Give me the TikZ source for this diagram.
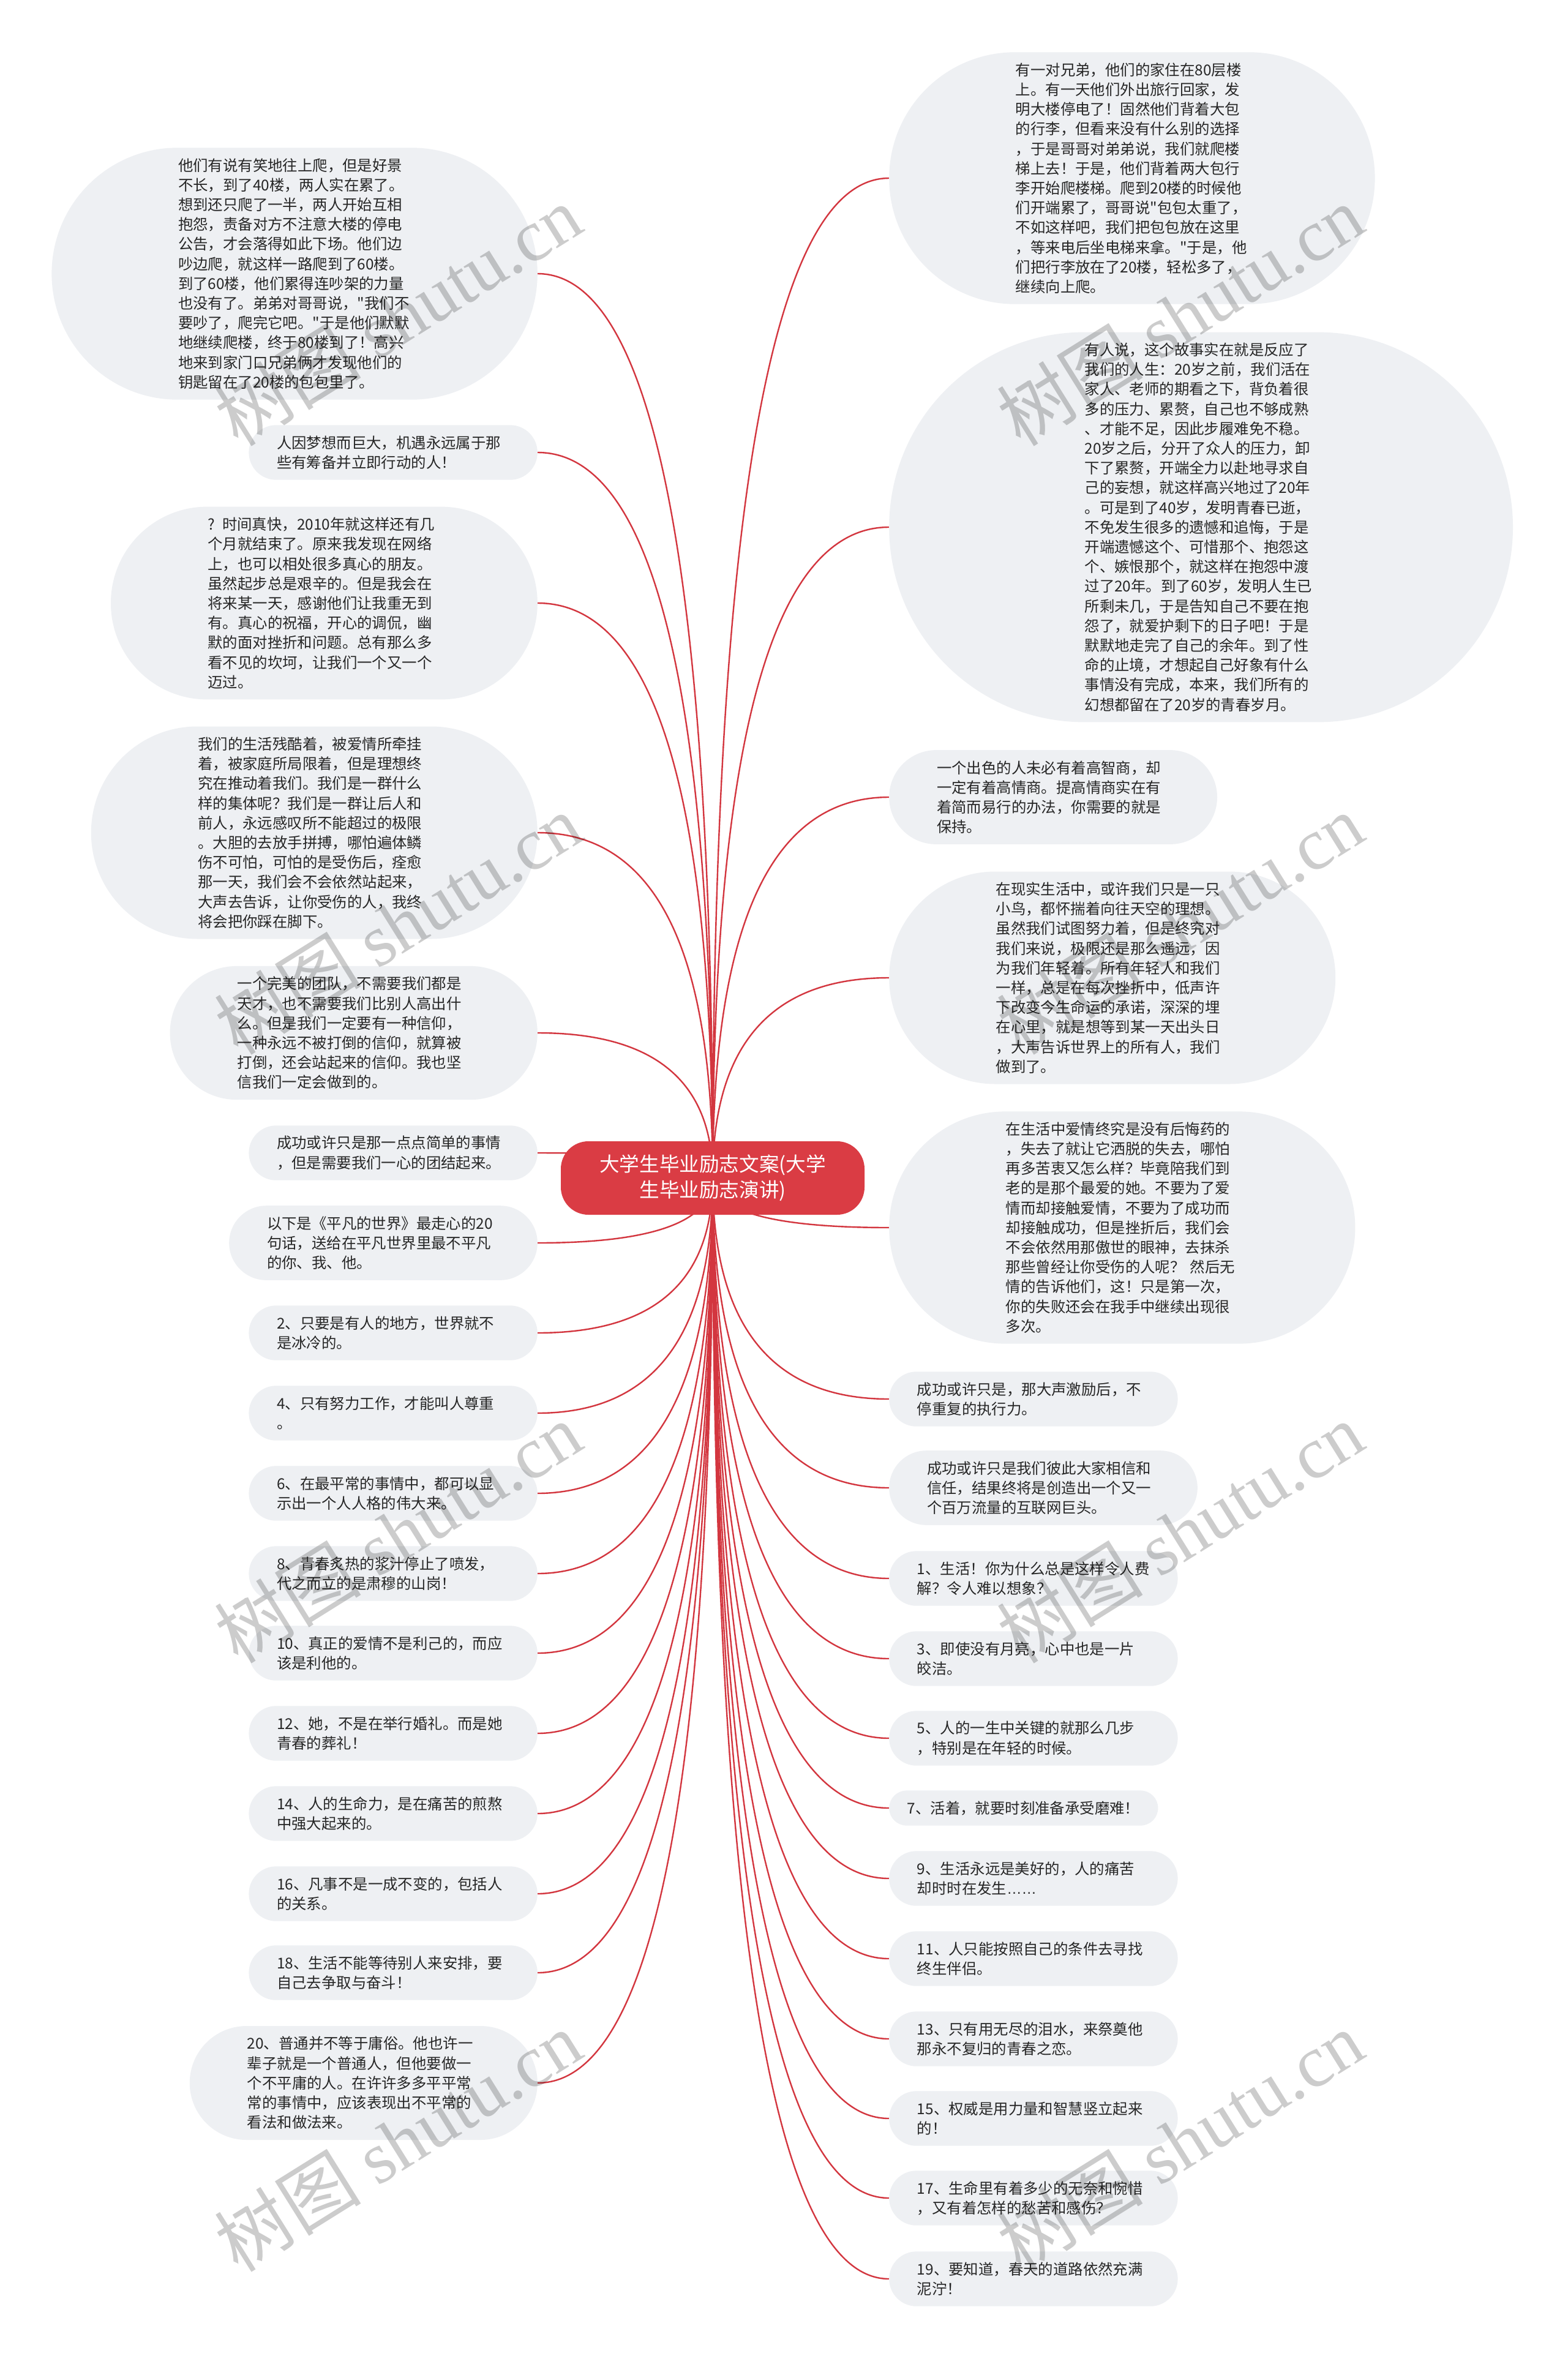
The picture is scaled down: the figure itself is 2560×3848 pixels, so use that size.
\documentclass[tikz,border=0pt]{standalone}
\usepackage{fontspec}
\setmainfont{Noto Sans CJK SC}
\setmonofont{Noto Sans CJK SC}
\newfontfamily\wmlat{Liberation Serif}
\newfontfamily\latf{Liberation Sans}
\usetikzlibrary{calc,backgrounds}
\definecolor{bubfill}{HTML}{EEF0F3}
\definecolor{rootred}{HTML}{DA3C44}
\definecolor{linkred}{HTML}{D3363F}
\definecolor{txt}{HTML}{262626}
\newcommand\sq{{\ttfamily "}}
\newcommand\mmlink[2]{\draw[link] let \p1=(root.center), \p2=(#1.#2) in (\p1) .. controls ($(\p1)!0.6667!(\x1,\y2)$) and ($(\p2)!0.6667!(\x1,\y2)$) .. (\p2);}
\begin{document}
\begin{tikzpicture}[x=1pt,y=-1pt,
  bub/.style={fill=bubfill,text=txt,inner sep=0pt,text width=380pt,align=left,
    font=\fontsize{24.4}{32.2}\selectfont,
    minimum height={32.2*#1+25},minimum width={32.2*#1+407},rounded corners={16.1*#1+12.5}},
  lnode/.style={bub=#1,anchor=east},
  rnode/.style={bub=#1,anchor=west},
  link/.style={draw=linkred,line width=2.4pt},
  rootbox/.style={fill=rootred,text=white,rounded corners=45pt,minimum width=496pt,minimum height=120pt,
    inner sep=0pt,align=center,font=\fontsize{32.6}{42}\selectfont},
  wm/.style={text=black,text opacity=0.2,font=\fontsize{120}{120}\selectfont,rotate=32,inner sep=0pt}]
\useasboundingbox (0,0) rectangle (2560,3848);
\begin{pgfonlayer}{background}
\fill[white] (0,0) rectangle (2560,3848);
\end{pgfonlayer}

\node[rootbox] (root) at (1164,1924) {大学生毕业励志文案(大学\\生毕业励志演讲)};

% left column
\node[lnode=12] (L1) at (878,447) {他们有说有笑地往上爬，但是好景\\不长，到了40楼，两人实在累了。\\想到还只爬了一半，两人开始互相\\抱怨，责备对方不注意大楼的停电\\公告，才会落得如此下场。他们边\\吵边爬，就这样一路爬到了60楼。\\到了60楼，他们累得连吵架的力量\\也没有了。弟弟对哥哥说，\sq 我们不\\要吵了，爬完它吧。\sq 于是他们默默\\地继续爬楼，终于80楼到了！高兴\\地来到家门口兄弟俩才发现他们的\\钥匙留在了20楼的包包里了。};
\node[lnode=2] (L2) at (878,739) {人因梦想而巨大，机遇永远属于那\\些有筹备并立即行动的人！};
\node[lnode=9] (L3) at (878,985) {? 时间真快，2010年就这样还有几\\个月就结束了。原来我发现在网络\\上，也可以相处很多真心的朋友。\\虽然起步总是艰辛的。但是我会在\\将来某一天，感谢他们让我重无到\\有。真心的祝福，开心的调侃，幽\\默的面对挫折和问题。总有那么多\\看不见的坎坷，让我们一个又一个\\迈过。};
\node[lnode=10] (L4) at (878,1360) {我们的生活残酷着，被爱情所牵挂\\着，被家庭所局限着，但是理想终\\究在推动着我们。我们是一群什么\\样的集体呢？我们是一群让后人和\\前人，永远感叹所不能超过的极限\\。大胆的去放手拼搏，哪怕遍体鳞\\伤不可怕，可怕的是受伤后，痊愈\\那一天，我们会不会依然站起来，\\大声去告诉，让你受伤的人，我终\\将会把你踩在脚下。};
\node[lnode=6] (L5) at (878,1687) {一个完美的团队，不需要我们都是\\天才，也不需要我们比别人高出什\\么。但是我们一定要有一种信仰，\\一种永远不被打倒的信仰，就算被\\打倒，还会站起来的信仰。我也坚\\信我们一定会做到的。};
\node[lnode=2] (L6) at (878,1883) {成功或许只是那一点点简单的事情\\，但是需要我们一心的团结起来。};
\node[lnode=3] (L7) at (878,2030) {以下是《平凡的世界》最走心的20\\句话，送给在平凡世界里最不平凡\\的你、我、他。};
\node[lnode=2] (L8) at (878,2177) {2、只要是有人的地方，世界就不\\是冰冷的。};
\node[lnode=2] (L9) at (878,2308) {4、只有努力工作，才能叫人尊重\\。};
\node[lnode=2] (L10) at (878,2439) {6、在最平常的事情中，都可以显\\示出一个人人格的伟大来。};
\node[lnode=2] (L11) at (878,2570) {8、青春炙热的浆汁停止了喷发，\\代之而立的是肃穆的山岗！};
\node[lnode=2] (L12) at (878,2700) {10、真正的爱情不是利己的，而应\\该是利他的。};
\node[lnode=2] (L13) at (878,2831) {12、她，不是在举行婚礼。而是她\\青春的葬礼！};
\node[lnode=2] (L14) at (878,2962) {14、人的生命力，是在痛苦的煎熬\\中强大起来的。};
\node[lnode=2] (L15) at (878,3093) {16、凡事不是一成不变的，包括人\\的关系。};
\node[lnode=2] (L16) at (878,3222) {18、生活不能等待别人来安排，要\\自己去争取与奋斗！};
\node[lnode=5] (L17) at (878,3402) {20、普通并不等于庸俗。他也许一\\辈子就是一个普通人，但他要做一\\个不平庸的人。在许许多多平平常\\常的事情中，应该表现出不平常的\\看法和做法来。};

% right column
\node[rnode=12] (R1) at (1452,291) {有一对兄弟，他们的家住在80层楼\\上。有一天他们外出旅行回家，发\\明大楼停电了！固然他们背着大包\\的行李，但看来没有什么别的选择\\，于是哥哥对弟弟说，我们就爬楼\\梯上去！于是，他们背着两大包行\\李开始爬楼梯。爬到20楼的时候他\\们开端累了，哥哥说\sq 包包太重了，\\不如这样吧，我们把包包放在这里\\，等来电后坐电梯来拿。\sq 于是，他\\们把行李放在了20楼，轻松多了，\\继续向上爬。};
\node[rnode=19] (R2) at (1452,861) {有人说，这个故事实在就是反应了\\我们的人生：20岁之前，我们活在\\家人、老师的期看之下，背负着很\\多的压力、累赘，自己也不够成熟\\、才能不足，因此步履难免不稳。\\20岁之后，分开了众人的压力，卸\\下了累赘，开端全力以赴地寻求自\\己的妄想，就这样高兴地过了20年\\。可是到了40岁，发明青春已逝，\\不免发生很多的遗憾和追悔，于是\\开端遗憾这个、可惜那个、抱怨这\\个、嫉恨那个，就这样在抱怨中渡\\过了20年。到了60岁，发明人生已\\所剩未几，于是告知自己不要在抱\\怨了，就爱护剩下的日子吧！于是\\默默地走完了自己的余年。到了性\\命的止境，才想起自己好象有什么\\事情没有完成，本来，我们所有的\\幻想都留在了20岁的青春岁月。};
\node[rnode=4] (R3) at (1452,1302) {一个出色的人未必有着高智商，却\\一定有着高情商。提高情商实在有\\着简而易行的办法，你需要的就是\\保持。};
\node[rnode=10] (R4) at (1452,1597) {在现实生活中，或许我们只是一只\\小鸟，都怀揣着向往天空的理想。\\虽然我们试图努力着，但是终究对\\我们来说，极限还是那么遥远，因\\为我们年轻着。所有年轻人和我们\\一样，总是在每次挫折中，低声许\\下改变今生命运的承诺，深深的埋\\在心里，就是想等到某一天出头日\\，大声告诉世界上的所有人，我们\\做到了。};
\node[rnode=11] (R5) at (1452,2005) {在生活中爱情终究是没有后悔药的\\，失去了就让它洒脱的失去，哪怕\\再多苦衷又怎么样？毕竟陪我们到\\老的是那个最爱的她。不要为了爱\\情而却接触爱情，不要为了成功而\\却接触成功，但是挫折后，我们会\\不会依然用那傲世的眼神，去抹杀\\那些曾经让你受伤的人呢？ 然后无\\情的告诉他们，这！只是第一次，\\你的失败还会在我手中继续出现很\\多次。};
\node[rnode=2] (R6) at (1452,2285) {成功或许只是，那大声激励后，不\\停重复的执行力。};
\node[rnode=3] (R7) at (1452,2430) {成功或许只是我们彼此大家相信和\\信任，结果终将是创造出一个又一\\个百万流量的互联网巨头。};
\node[rnode=2] (R8) at (1452,2578) {1、生活！你为什么总是这样令人费\\解？令人难以想象？};
\node[rnode=2] (R9) at (1452,2709) {3、即使没有月亮，心中也是一片\\皎洁。};
\node[rnode=2] (R10) at (1452,2839) {5、人的一生中关键的就那么几步\\，特别是在年轻的时候。};
\node[rnode=1] (R11) at (1452,2953) {7、活着，就要时刻准备承受磨难！};
\node[rnode=2] (R12) at (1452,3068) {9、生活永远是美好的，人的痛苦\\却时时在发生{\latf ……}};
\node[rnode=2] (R13) at (1452,3199) {11、人只能按照自己的条件去寻找\\终生伴侣。};
\node[rnode=2] (R14) at (1452,3330) {13、只有用无尽的泪水，来祭奠他\\那永不复归的青春之恋。};
\node[rnode=2] (R15) at (1452,3460) {15、权威是用力量和智慧竖立起来\\的！};
\node[rnode=2] (R16) at (1452,3590) {17、生命里有着多少的无奈和惋惜\\，又有着怎样的愁苦和感伤？};
\node[rnode=2] (R17) at (1452,3722) {19、要知道，春天的道路依然充满\\泥泞！};

\begin{pgfonlayer}{background}
\foreach \nd in {L1,L2,L3,L4,L5,L6,L7,L8,L9,L10,L11,L12,L13,L14,L15,L16,L17}{\mmlink{\nd}{east}}
\foreach \nd in {R1,R2,R3,R4,R5,R6,R7,R8,R9,R10,R11,R12,R13,R14,R15,R16,R17}{\mmlink{\nd}{west}}
\end{pgfonlayer}

% watermarks
\node[wm] (wm1) at (650,515) {树图 {\wmlat shutu.cn}};
\node[wm] (wm2) at (1927,515) {树图 {\wmlat shutu.cn}};
\node[wm] (wm3) at (650,1509) {树图 {\wmlat shutu.cn}};
\node[wm] (wm4) at (1927,1509) {树图 {\wmlat shutu.cn}};
\node[wm] (wm5) at (650,2503) {树图 {\wmlat shutu.cn}};
\node[wm] (wm6) at (1927,2503) {树图 {\wmlat shutu.cn}};
\node[wm] (wm7) at (650,3497) {树图 {\wmlat shutu.cn}};
\node[wm] (wm8) at (1927,3497) {树图 {\wmlat shutu.cn}};
\end{tikzpicture}
\end{document}
